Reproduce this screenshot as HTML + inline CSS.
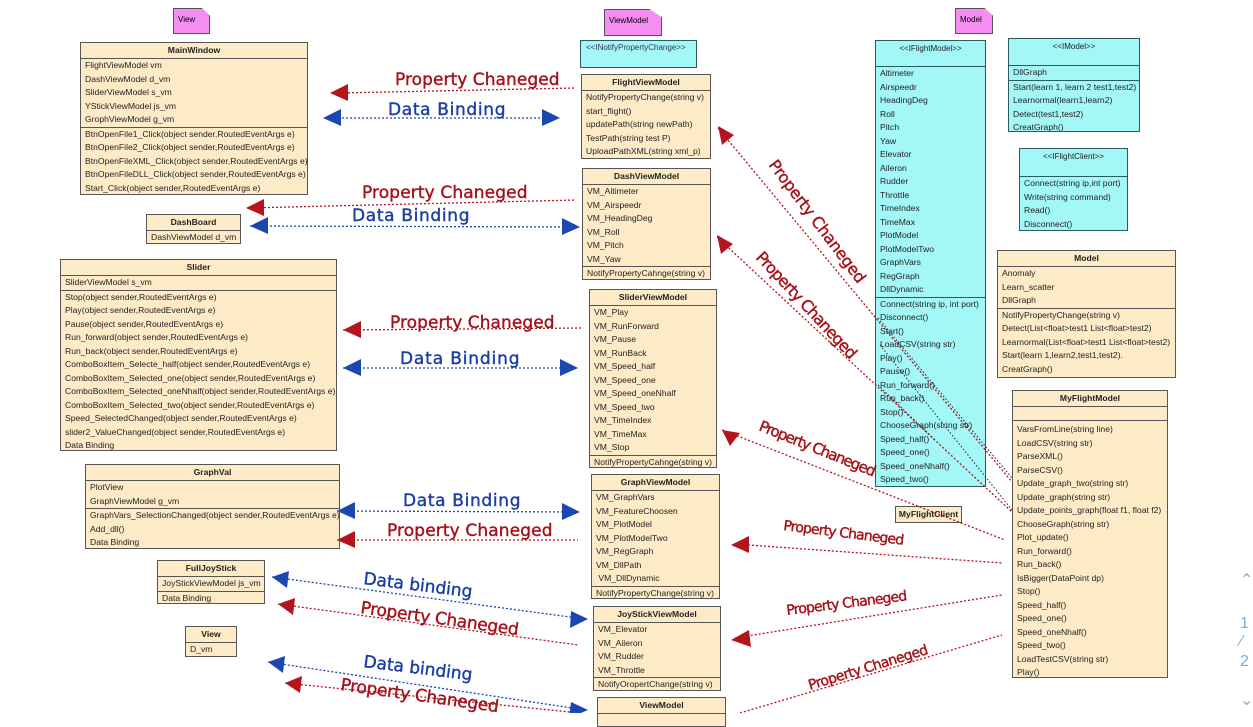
<!DOCTYPE html>
<html><head><meta charset="utf-8"><style>
body{margin:0;width:1253px;height:713px;overflow:hidden;background:#fff;position:relative;font-family:"Liberation Sans",sans-serif;}
.b{position:absolute;background:#fdebc7;border:1px solid #555;font-size:8.6px;color:#222;box-sizing:border-box;overflow:hidden}
.c{background:#a3f7f7;border-color:#2d5b5b}
.t{text-align:center;font-weight:bold;height:15px;line-height:15px;border-bottom:1px solid #555}
.r{height:13.5px;line-height:13.5px;padding-left:4px;white-space:nowrap}
.s{border-top:1px solid #555}
.n{position:absolute;background:#f58ef0;border:1px solid #555;font-size:8px;box-sizing:border-box;padding:6px 0 0 4px;clip-path:polygon(0 0,78% 0,100% 30%,100% 100%,0 100%)}
svg{position:absolute;left:0;top:0}
.hw{font-family:"DejaVu Sans",sans-serif;font-size:17px;letter-spacing:0.5px}
.side{position:absolute;left:1240px;color:#7ab0d8;font-size:16px}
</style></head><body>

<div class="n" style="left:173px;top:8px;width:37px;height:26px">View</div>
<div class="n" style="left:604px;top:9px;width:58px;height:27px">ViewModel</div>
<div class="n" style="left:955px;top:8px;width:38px;height:26px">Model</div>

<div class="b" style="left:80px;top:42px;width:228px;height:153px"><div class="t">MainWindow</div>
<div class="r">FlightViewModel vm</div><div class="r">DashViewModel d_vm</div><div class="r">SliderViewModel s_vm</div><div class="r">YStickViewModel js_vm</div><div class="r">GrophViewModel g_vm</div>
<div class="r s">BtnOpenFile1_Click(object sender,RoutedEventArgs e)</div><div class="r">BtnOpenFile2_Click(object sender,RoutedEventArgs e)</div><div class="r">BtnOpenFileXML_Click(object sender,RoutedEventArgs e)</div><div class="r">BtnOpenFileDLL_Click(object sender,RoutedEventArgs e)</div><div class="r">Start_Click(object sender,RoutedEventArgs e)</div></div>

<div class="b" style="left:146px;top:214px;width:95px;height:30px"><div class="t">DashBoard</div><div class="r">DashViewModel d_vm</div></div>

<div class="b" style="left:60px;top:259px;width:277px;height:192px"><div class="t">Slider</div>
<div class="r">SliderViewModel s_vm</div><div class="r s">Stop(object sender,RoutedEventArgs e)</div><div class="r">Play(object sender,RoutedEventArgs e)</div><div class="r">Pause(object sender,RoutedEventArgs e)</div><div class="r">Run_forward(object sender,RoutedEventArgs e)</div><div class="r">Run_back(object sender,RoutedEventArgs e)</div><div class="r">ComboBoxItem_Selecte_half(object sender,RoutedEventArgs e)</div><div class="r">ComboBoxItem_Selected_one(object sender,RoutedEventArgs e)</div><div class="r">ComboBoxItem_Selected_oneNhalf(object sender,RoutedEventArgs e)</div><div class="r">ComboBoxItem_Selected_two(object sender,RoutedEventArgs e)</div><div class="r">Speed_SelectedChanged(object sender,RoutedEventArgs e)</div><div class="r">slider2_ValueChanged(object sender,RoutedEventArgs e)</div><div class="r">Data Binding</div></div>

<div class="b" style="left:85px;top:464px;width:255px;height:85px"><div class="t">GraphVal</div>
<div class="r">PlotView</div><div class="r">GraphViewModel g_vm</div><div class="r s">GraphVars_SelectionChanged(object sender,RoutedEventArgs e)</div><div class="r">Add_dll()</div><div class="r">Data Binding</div></div>

<div class="b" style="left:157px;top:560px;width:108px;height:44px"><div class="t">FullJoyStick</div><div class="r">JoyStickViewModel js_vm</div><div class="r s">Data Binding</div></div>

<div class="b" style="left:185px;top:626px;width:52px;height:31px"><div class="t">View</div><div class="r">D_vm</div></div>

<div class="b c" style="left:580px;top:40px;width:117px;height:28px;font-size:8px;color:#335"><div class="r" style="padding-left:5px">&lt;&lt;INotifyPropertyChange&gt;&gt;</div></div>

<div class="b" style="left:581px;top:74px;width:130px;height:85px"><div class="t">FlightViewModel</div>
<div class="r">NotifyPropertyChange(string v)</div><div class="r">start_flight()</div><div class="r">updatePath(string newPath)</div><div class="r">TestPath(string test P)</div><div class="r">UploadPathXML(string xml_p)</div></div>

<div class="b" style="left:582px;top:168px;width:129px;height:112px"><div class="t">DashViewModel</div>
<div class="r">VM_Altimeter</div><div class="r">VM_Airspeedr</div><div class="r">VM_HeadingDeg</div><div class="r">VM_Roll</div><div class="r">VM_Pitch</div><div class="r">VM_Yaw</div><div class="r s">NotifyPropertyCahnge(string v)</div></div>

<div class="b" style="left:589px;top:289px;width:128px;height:179px"><div class="t">SliderViewModel</div>
<div class="r">VM_Play</div><div class="r">VM_RunForward</div><div class="r">VM_Pause</div><div class="r">VM_RunBack</div><div class="r">VM_Speed_half</div><div class="r">VM_Speed_one</div><div class="r">VM_Speed_oneNhalf</div><div class="r">VM_Speed_two</div><div class="r">VM_TimeIndex</div><div class="r">VM_TimeMax</div><div class="r">VM_Stop</div><div class="r s">NotifyPropertyCahnge(string v)</div></div>

<div class="b" style="left:591px;top:474px;width:129px;height:125px"><div class="t">GraphViewModel</div>
<div class="r">VM_GraphVars</div><div class="r">VM_FeatureChoosen</div><div class="r">VM_PlotModel</div><div class="r">VM_PlotModelTwo</div><div class="r">VM_RegGraph</div><div class="r">VM_DllPath</div><div class="r">&nbsp;VM_DllDynamic</div><div class="r s">NotifyPropertyChange(string v)</div></div>

<div class="b" style="left:593px;top:606px;width:128px;height:85px"><div class="t">JoyStickViewModel</div>
<div class="r">VM_Elevator</div><div class="r">VM_Aileron</div><div class="r">VM_Rudder</div><div class="r">VM_Throttle</div><div class="r s">NotifyOropertChange(string v)</div></div>

<div class="b" style="left:597px;top:697px;width:129px;height:30px"><div class="t">ViewModel</div></div>

<div class="b c" style="left:875px;top:40px;width:111px;height:447px"><div class="t" style="height:25px;border-color:#2d5b5b;font-weight:normal;font-size:8px;line-height:16px">&lt;&lt;IFlightModel&gt;&gt;</div>
<div class="r">Altimeter</div><div class="r">Airspeedr</div><div class="r">HeadingDeg</div><div class="r">Roll</div><div class="r">Pitch</div><div class="r">Yaw</div><div class="r">Elevator</div><div class="r">Aileron</div><div class="r">Rudder</div><div class="r">Throttle</div><div class="r">TimeIndex</div><div class="r">TimeMax</div><div class="r">PlotModel</div><div class="r">PlotModelTwo</div><div class="r">GraphVars</div><div class="r">RegGraph</div><div class="r">DllDynamic</div>
<div class="r s" style="border-color:#2d5b5b">Connect(string ip, int port)</div><div class="r">Disconnect()</div><div class="r">Start()</div><div class="r">LoadCSV(string str)</div><div class="r">Play()</div><div class="r">Pause()</div><div class="r">Run_forward()</div><div class="r">Run_back()</div><div class="r">Stop()</div><div class="r">ChooseGraph(string str)</div><div class="r">Speed_half()</div><div class="r">Speed_one()</div><div class="r">Speed_oneNhalf()</div><div class="r">Speed_two()</div></div>

<div class="b c" style="left:1008px;top:38px;width:132px;height:94px"><div class="t" style="height:26px;font-weight:normal;font-size:8px;line-height:16px;border-color:#2d5b5b">&lt;&lt;IModel&gt;&gt;</div>
<div class="r">DllGraph</div><div class="r s" style="border-color:#2d5b5b">Start(learn 1, learn 2 test1,test2)</div><div class="r">Learnormal(learn1,learn2)</div><div class="r">Detect(test1,test2)</div><div class="r">CreatGraph()</div></div>

<div class="b c" style="left:1019px;top:148px;width:109px;height:83px"><div class="t" style="height:27px;font-weight:normal;font-size:8px;line-height:16px;border-color:#2d5b5b">&lt;&lt;IFlightClient&gt;&gt;</div>
<div class="r">Connect(string ip,int port)</div><div class="r">Write(string command)</div><div class="r">Read()</div><div class="r">Disconnect()</div></div>

<div class="b" style="left:997px;top:250px;width:179px;height:128px"><div class="t">Model</div>
<div class="r">Anomaly</div><div class="r">Learn_scatter</div><div class="r">DllGraph</div><div class="r s">NotifyPropertyChange(string v)</div><div class="r">Detect(List&lt;float&gt;test1 List&lt;float&gt;test2)</div><div class="r">Learnormal(List&lt;float&gt;test1 List&lt;float&gt;test2)</div><div class="r">Start(learn 1,learn2,test1,test2).</div><div class="r">CreatGraph()</div></div>

<div class="b" style="left:1012px;top:390px;width:156px;height:288px"><div class="t">MyFlightModel</div><div style="height:13px;border-bottom:1px solid #555"></div>
<div class="r" style="margin-top:2px">VarsFromLine(string line)</div><div class="r">LoadCSV(string str)</div><div class="r">ParseXML()</div><div class="r">ParseCSV()</div><div class="r">Update_graph_two(string str)</div><div class="r">Update_graph(string str)</div><div class="r">Update_points_graph(float f1, float f2)</div><div class="r">ChooseGraph(string str)</div><div class="r">Plot_update()</div><div class="r">Run_forward()</div><div class="r">Run_back()</div><div class="r">IsBigger(DataPoint dp)</div><div class="r">Stop()</div><div class="r">Speed_half()</div><div class="r">Speed_one()</div><div class="r">Speed_oneNhalf()</div><div class="r">Speed_two()</div><div class="r">LoadTestCSV(string str)</div><div class="r">Play()</div></div>

<div class="b" style="left:895px;top:506px;width:67px;height:17px"><div class="t" style="border:0">MyFlightClient</div></div>

<svg width="1253" height="713" viewBox="0 0 1253 713">
<g fill="none" stroke-width="1.3" stroke-dasharray="2,2" stroke="#b5141c">
<line x1="340" y1="93" x2="575" y2="88"/>
<line x1="248" y1="208" x2="576" y2="200"/>
<line x1="343" y1="330" x2="582" y2="328"/>
<line x1="337" y1="540" x2="578" y2="540"/>
<line x1="278" y1="604" x2="578" y2="645"/>
<line x1="285" y1="683" x2="580" y2="713"/>
<line x1="718" y1="128" x2="1012" y2="482"/>
<line x1="717" y1="237" x2="1012" y2="512"/>
<line x1="722" y1="430" x2="1005" y2="540"/>
<line x1="748" y1="545" x2="1002" y2="563"/>
<line x1="735" y1="638" x2="1002" y2="595"/>
<line x1="740" y1="713" x2="1002" y2="635"/>
</g>
<g fill="none" stroke-width="1.1" stroke-dasharray="1.5,2" stroke="#333">
<line x1="878" y1="318" x2="1012" y2="478"/>
<line x1="880" y1="345" x2="1012" y2="510"/>
<line x1="878" y1="385" x2="935" y2="440"/>
</g>
<g fill="#b5141c">
<path d="M330,93 l18,-9 l0,17z"/><path d="M246,208 l18,-9 l0,17z"/><path d="M343,330 l18,-9 l0,17z"/><path d="M337,540 l18,-9 l0,17z"/>
<path d="M278,604 l17,-6 l-2,17z"/><path d="M285,683 l17,-7 l-2,17z"/>
<path d="M718,126 l4,19 l12,-10z"/><path d="M717,235 l4,19 l12,-10z"/><path d="M722,430 l8,16 l10,-13z"/>
<path d="M731,545 l18,-9 l0,17z"/><path d="M731,640 l18,-10 l2,17z"/>
</g>
<g fill="none" stroke-width="1.3" stroke-dasharray="2,2" stroke="#1c47b0">
<line x1="330" y1="118" x2="555" y2="118"/>
<line x1="250" y1="226" x2="576" y2="227"/>
<line x1="343" y1="368" x2="575" y2="368"/>
<line x1="337" y1="511" x2="577" y2="512"/>
<line x1="272" y1="577" x2="585" y2="619"/>
<line x1="268" y1="662" x2="585" y2="710"/>
</g>
<g fill="#1c47b0">
<path d="M323,118 l18,-9 l0,17z"/><path d="M560,118 l-18,-9 l0,17z"/>
<path d="M250,226 l18,-9 l0,17z"/><path d="M580,227 l-18,-9 l0,17z"/>
<path d="M343,368 l18,-9 l0,17z"/><path d="M578,368 l-18,-9 l0,17z"/>
<path d="M337,511 l18,-9 l0,17z"/><path d="M580,512 l-18,-9 l0,17z"/>
<path d="M272,577 l17,-6 l-2,17z"/><path d="M588,619 l-17,-8 l-1,17z"/>
<path d="M268,662 l17,-6 l-2,17z"/><path d="M588,710 l-17,-8 l-2,16z"/>
</g>
<g class="hw" fill="#a5121a" stroke="#a5121a" stroke-width="0.4">
<text x="395" y="85" textLength="165">Property Chaneged</text>
<text x="362" y="198" textLength="166">Property Chaneged</text>
<text x="390" y="328" textLength="165">Property Chaneged</text>
<text x="387" y="536" textLength="166">Property Chaneged</text>
<text x="360" y="613" textLength="160" transform="rotate(8 360 613)">Property Chaneged</text>
<text x="340" y="690" textLength="160" transform="rotate(8 340 690)">Property Chaneged</text>
<text x="768" y="165" textLength="150" style="font-size:16px" transform="rotate(53 768 165)">Property Chaneged</text>
<text x="755" y="258" textLength="140" style="font-size:16px" transform="rotate(47 755 258)">Property Chaneged</text>
<text x="758" y="430" textLength="125" style="font-size:15px" transform="rotate(22 758 430)">Property Chaneged</text>
<text x="783" y="530" textLength="122" style="font-size:14px" transform="rotate(7 783 530)">Property Chaneged</text>
<text x="787" y="615" textLength="122" style="font-size:14px" transform="rotate(-7 787 615)">Property Chaneged</text>
<text x="810" y="690" textLength="125" style="font-size:14px" transform="rotate(-17 810 690)">Property Chaneged</text>
</g>
<g class="hw" fill="#1a3ea5" stroke="#1a3ea5" stroke-width="0.4">
<text x="388" y="115" textLength="118">Data Binding</text>
<text x="352" y="221" textLength="118">Data Binding</text>
<text x="400" y="364" textLength="120">Data Binding</text>
<text x="403" y="506" textLength="118">Data Binding</text>
<text x="363" y="584" textLength="110" transform="rotate(7 363 584)">Data binding</text>
<text x="363" y="667" textLength="110" transform="rotate(7 363 667)">Data binding</text>
</g>
</svg>
<div class="side" style="top:570px">&#8963;</div>
<div class="side" style="top:615px">1</div>
<div class="side" style="top:633px">&#8725;</div>
<div class="side" style="top:653px">2</div>
<div class="side" style="top:690px">&#8964;</div>
</body></html>
